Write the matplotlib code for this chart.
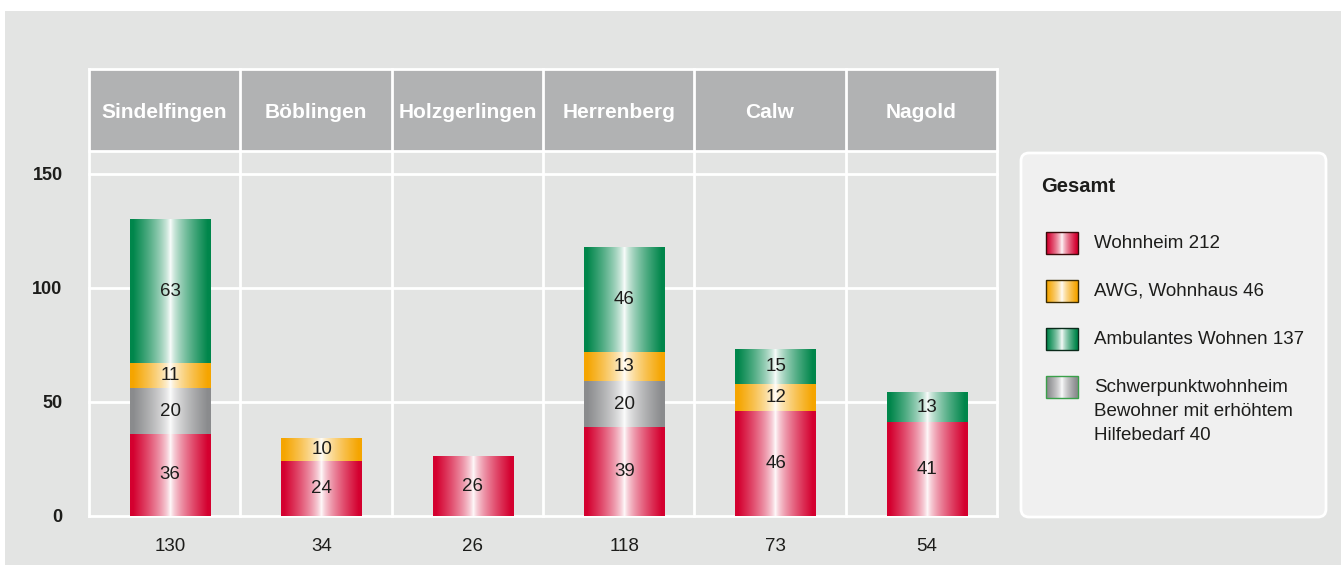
import matplotlib
matplotlib.use("Agg")
import matplotlib.pyplot as plt
import numpy as np
from matplotlib.patches import Rectangle, FancyBboxPatch

plt.rcParams["font.family"] = ["Liberation Sans", "DejaVu Sans"]

# ------------------------------------------------------------------
# data
cities = ["Sindelfingen", "Böblingen", "Holzgerlingen", "Herrenberg", "Calw", "Nagold"]
wohnheim = [36, 24, 26, 39, 46, 41]
schwerpunkt = [20, 0, 0, 20, 0, 0]
awg = [11, 10, 0, 13, 12, 0]
ambulant = [63, 0, 0, 46, 15, 13]
y_ticks = [0, 50, 100, 150]

series = [  # bottom -> top
    ("Wohnheim", wohnheim, "#d4002f"),
    ("Schwerpunktwohnheim\nBewohner mit erhöhtem\nHilfebedarf", schwerpunkt, "#8a8b8d"),
    ("AWG, Wohnhaus", awg, "#f5a500"),
    ("Ambulantes Wohnen", ambulant, "#00864b"),
]
legend_order = [0, 2, 3, 1]
swatch_edges = ["#3a0a0a", "#3aa04a", "#3a2a00", "#0a2a1a"]

totals = np.sum([s[1] for s in series], axis=0)

BG = "#e3e4e3"
HEADER = "#b1b2b3"
INK = "#1d1d1b"
W, H = 1341, 565


def gradient(colour, n=256):
    """cylinder look: colour at the edges, white in the middle"""
    c = np.array(matplotlib.colors.to_rgb(colour))
    t = np.abs(np.linspace(-1, 1, n))
    f = np.clip(t * 1.08, 0, 1) ** 0.7
    img = (1 - f)[:, None] * 1.0 + f[:, None] * c[None, :]
    return img[None, :, :]


fig = plt.figure(figsize=(W / 100, H / 100), dpi=100)
fig.patch.set_facecolor("white")
fig.add_artist(Rectangle((5 / W, 0), 1, (H - 11) / H, transform=fig.transFigure,
                         facecolor=BG, edgecolor="none", zorder=0))

# ------------------------------------------------------------------
# main chart
ax = fig.add_axes([89 / W, (H - 516) / H, 908 / W, (516 - 69) / H])
ax.set_facecolor("none")
n = len(cities)
ytop = 196
header_lo = 160
shift = 0.037          # bars sit a touch right of the column centre
ax.set_xlim(-0.5, n - 0.5)
ax.set_ylim(0, ytop)

for i, city in enumerate(cities):
    ax.add_patch(Rectangle((i - 0.5, header_lo), 1, ytop - header_lo,
                           facecolor=HEADER, edgecolor="none", zorder=1))
    ax.text(i, (header_lo + ytop) / 2 - 1, city, ha="center", va="center",
            color="white", fontsize=15, fontweight="bold", zorder=5)

for y in y_ticks + [header_lo, ytop]:
    ax.axhline(y, color="white", lw=2, zorder=2, clip_on=False)
for xb in np.arange(-0.5, n, 1.0):
    ax.axvline(xb, color="white", lw=2, zorder=2, clip_on=False)

bw = 0.53
bottom = np.zeros(n)
for name, vals, colour in series:
    img = gradient(colour)
    for i, v in enumerate(vals):
        if v <= 0:
            continue
        xc = i + shift
        ax.imshow(img, extent=(xc - bw / 2, xc + bw / 2, bottom[i], bottom[i] + v),
                  aspect="auto", interpolation="bilinear", zorder=3)
        ax.text(xc, bottom[i] + v / 2, str(v), ha="center", va="center",
                fontsize=13.5, color=INK, zorder=4)
    bottom += np.array(vals)

ax.set_xlim(-0.5, n - 0.5)
ax.set_ylim(0, ytop)
ax.set_aspect("auto")
ax.set_yticks(y_ticks)
ax.set_yticklabels([str(t) for t in y_ticks], fontsize=13, fontweight="bold", color=INK)
ax.set_xticks(np.arange(n) + shift)
ax.set_xticklabels([str(t) for t in totals], fontsize=13.5, color=INK)
ax.tick_params(axis="y", length=0, pad=19)
ax.tick_params(axis="x", length=0, pad=16)
for sp in ax.spines.values():
    sp.set_visible(False)

# ------------------------------------------------------------------
# legend panel (pixel coordinates)
lax = fig.add_axes([0, 0, 1, 1])
lax.set_xlim(0, W)
lax.set_ylim(H, 0)
lax.axis("off")
lax.add_patch(FancyBboxPatch((1021, 153), 305, 364,
                             boxstyle="round,pad=0,rounding_size=8",
                             facecolor="#f0f0f0", edgecolor="white", lw=2))
lax.text(1041, 187, "Gesamt", fontsize=14.5, fontweight="bold", color=INK,
         ha="left", va="center")
y0 = 243
for k, idx in enumerate(legend_order):
    name, vals, colour = series[idx]
    yc = y0 + 48 * k
    lax.imshow(gradient(colour), extent=(1046, 1078, yc + 11, yc - 11),
               aspect="auto", interpolation="bilinear", zorder=3)
    lax.add_patch(Rectangle((1046, yc - 11), 32, 22, facecolor="none",
                            edgecolor=swatch_edges[idx], lw=1, zorder=4))
    lines = f"{name} {sum(vals)}".split("\n")
    for j, line in enumerate(lines):
        lax.text(1094, yc + 24 * j, line, fontsize=13.5, color=INK,
                 ha="left", va="center")
lax.set_xlim(0, W)
lax.set_ylim(H, 0)
lax.set_aspect("auto")

fig.savefig("out.png", dpi=100)
